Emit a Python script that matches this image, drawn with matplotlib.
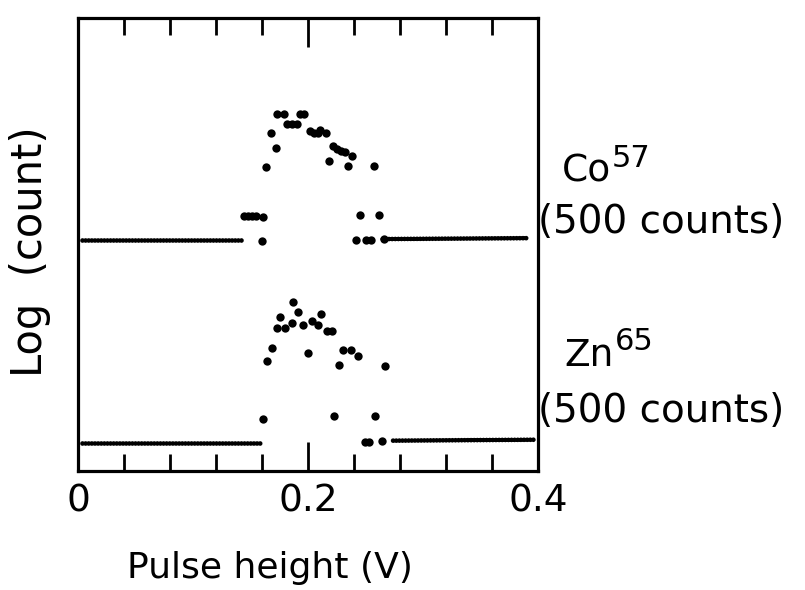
import matplotlib
matplotlib.use("Agg")
import matplotlib.pyplot as plt

plt.rcParams['font.family'] = ['DejaVu Sans']

# ---- data (pulse height in V, log(count) in arbitrary offset units) ----
co_peak_x = [0.1730, 0.1791, 0.1930, 0.1965, 0.1817, 0.1861, 0.1904, 0.1678,
             0.1722, 0.1635, 0.2017, 0.2052, 0.2087, 0.2104, 0.2157, 0.2217,
             0.2252, 0.2287, 0.2322, 0.2383, 0.2183, 0.2348, 0.2574,
             0.1443, 0.1478, 0.1513, 0.1548, 0.1609, 0.1600, 0.2452, 0.2617,
             0.2417, 0.2504, 0.2548, 0.2661]
co_peak_y = [7.88, 7.88, 7.88, 7.88, 7.66, 7.66, 7.66, 7.46,
             7.13, 6.71, 7.51, 7.46, 7.46, 7.53, 7.46, 7.17,
             7.11, 7.06, 7.04, 6.95, 6.84, 6.73, 6.73,
             5.63, 5.63, 5.63, 5.63, 5.61, 5.08, 5.65, 5.65,
             5.10, 5.10, 5.10, 5.12]

zn_peak_x = [0.1870, 0.1913, 0.1757, 0.2113, 0.1730, 0.1800, 0.1861, 0.1957,
             0.2035, 0.2087, 0.2165, 0.2209, 0.1687, 0.1643, 0.2000, 0.2304,
             0.2374, 0.2435, 0.2270, 0.2670,
             0.1609, 0.2226, 0.2583, 0.2496, 0.2530, 0.2643]
zn_peak_y = [3.73, 3.51, 3.40, 3.47, 3.16, 3.16, 3.27, 3.22,
             3.31, 3.22, 3.09, 3.09, 2.72, 2.43, 2.60, 2.67,
             2.67, 2.54, 2.34, 2.32,
             1.15, 1.21, 1.21, 0.64, 0.64, 0.66]

# baseline (zero-count channels) segments: x range and level
co_base_left_x = [0.0035, 0.1435]
co_base_left_y = [5.10, 5.10]
co_base_right_x = [0.265, 0.390]
co_base_right_y = [5.12, 5.14]
zn_base_left_x = [0.0035, 0.158]
zn_base_left_y = [0.62, 0.62]
zn_base_right_x = [0.274, 0.396]
zn_base_right_y = [0.67, 0.69]

minor_ticks = [0.04, 0.08, 0.12, 0.16, 0.24, 0.28, 0.32, 0.36]
major_ticks = [0.20]
x_labels = [0.0, 0.2, 0.4]
x_label_text = ['0', '0.2', '0.4']

fig = plt.figure(figsize=(8.05, 5.9), dpi=100)
ax = fig.add_axes([78/805, 1-471/590, 460/805, 453/590])

base_style = dict(color='black', lw=3.4, linestyle=(0, (0.01, 0.65)),
                  dash_capstyle='round', solid_capstyle='round')
for bx, by in [(co_base_left_x, co_base_left_y), (co_base_right_x, co_base_right_y),
               (zn_base_left_x, zn_base_left_y), (zn_base_right_x, zn_base_right_y)]:
    ax.plot(bx, by, **base_style)

ax.plot(co_peak_x, co_peak_y, 'o', color='black', ms=6.0, mew=0)
ax.plot(zn_peak_x, zn_peak_y, 'o', color='black', ms=6.0, mew=0)

ax.set_xlim(0, 0.4)
ax.set_ylim(0, 10)

for s in ax.spines.values():
    s.set_linewidth(2.3)

ax.set_xticks(major_ticks)
ax.set_xticks(minor_ticks, minor=True)
ax.set_xticklabels([])
ax.tick_params(axis='x', which='major', direction='in', top=True, bottom=True,
               length=21, width=2.0)
ax.tick_params(axis='x', which='minor', direction='in', top=True, bottom=True,
               length=12, width=2.0)
ax.set_yticks([])

for xv, lab in zip(x_labels, x_label_text):
    ax.annotate(lab, xy=(xv, 0), xycoords=('data', 'axes fraction'),
                xytext=(0, -9), textcoords='offset points',
                ha='center', va='top', fontsize=27)

fig.text(270/805, 1-578/590, 'Pulse height (V)', ha='center', va='baseline',
         fontsize=26)
fig.text(30/805, 1-252/590, 'Log  (count)', ha='center', va='center',
         rotation=90, fontsize=30)

fig.text(562/805, 1-182/590, 'Co', ha='left', va='baseline', fontsize=27)
fig.text(612/805, 1-167/590, '57', ha='left', va='baseline', fontsize=22)
fig.text(538/805, 1-233/590, '(500 counts)', ha='left', va='baseline', fontsize=28)
fig.text(564/805, 1-366/590, 'Zn', ha='left', va='baseline', fontsize=27)
fig.text(615/805, 1-350/590, '65', ha='left', va='baseline', fontsize=22)
fig.text(538/805, 1-422/590, '(500 counts)', ha='left', va='baseline', fontsize=28)

fig.savefig('out.png', dpi=100)
